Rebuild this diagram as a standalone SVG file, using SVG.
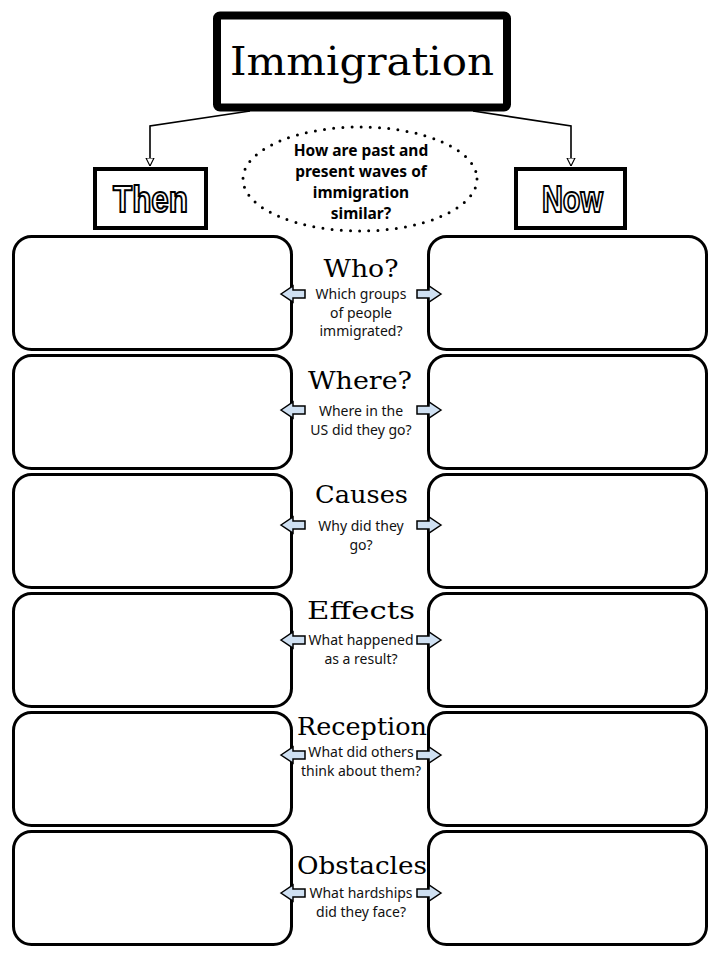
<svg xmlns="http://www.w3.org/2000/svg" width="720" height="960" viewBox="0 0 720 960">
<style>
.box{fill:#fff;stroke:#000;stroke-width:3}
.conn{fill:none;stroke:#000;stroke-width:1.6}
.head{font-family:"DejaVu Serif",serif;font-size:25px;fill:#000;text-anchor:middle}
.sub{font-family:"Noto Sans","Liberation Sans",sans-serif;font-size:14px;fill:#111;text-anchor:middle}
.q{font-family:"Noto Sans","Liberation Sans",sans-serif;font-size:15.5px;font-weight:bold;fill:#000;text-anchor:middle}
.out{font-family:"Liberation Sans",Arial,sans-serif;font-size:36px;font-weight:bold;fill:#fff;stroke:#000;stroke-width:2;text-anchor:middle}
.arr{fill:#cfe0f2;stroke:#000;stroke-width:1.5;stroke-linejoin:miter}
</style>
<defs>
<marker id="tri" viewBox="0 0 10 10" refX="10" refY="5" markerWidth="8" markerHeight="11" markerUnits="userSpaceOnUse" orient="auto">
<path d="M0,0 L10,5 L0,10 Z" fill="#fff" stroke="#000" stroke-width="1.4"/>
</marker>
<path id="arrow" d="M0,0 L12,-8 L12,-4 L24,-4 L24,4 L12,4 L12,8 Z"/>
</defs>
<rect width="720" height="960" fill="#fff"/>
<g id="connectors">
<path class="conn" d="M250,111 L150,126 L150,166" marker-end="url(#tri)"/>
<path class="conn" d="M473,111 L571,126 L571,166" marker-end="url(#tri)"/>
</g>
<g id="title">
<rect x="217" y="15.5" width="290" height="92" rx="3" fill="#fff" stroke="#000" stroke-width="8"/>
<text x="362" y="75" font-family="DejaVu Serif,serif" font-size="40" text-anchor="middle" textLength="264" lengthAdjust="spacingAndGlyphs">Immigration</text>
</g>
<g id="then">
<rect x="95" y="169" width="111" height="59" fill="#fff" stroke="#000" stroke-width="4"/>
<text class="out" x="150.5" y="212" textLength="75" lengthAdjust="spacingAndGlyphs">Then</text>
</g>
<g id="now">
<rect x="516" y="169" width="109" height="59" fill="#fff" stroke="#000" stroke-width="4"/>
<text class="out" x="572.5" y="212" textLength="61" lengthAdjust="spacingAndGlyphs">Now</text>
</g>
<g id="question">
<ellipse cx="360" cy="179" rx="117" ry="52" fill="none" stroke="#000" stroke-width="3" stroke-linecap="round" stroke-dasharray="0 9.2"/>
<text class="q" x="361" y="156">How are past and</text>
<text class="q" x="361" y="177">present waves of</text>
<text class="q" x="361" y="198">immigration</text>
<text class="q" x="361" y="219">similar?</text>
</g>
<g id="then-boxes">
<rect class="box" x="13.5" y="236.5" width="278" height="113" rx="18"/>
<rect class="box" x="13.5" y="355.5" width="278" height="113" rx="18"/>
<rect class="box" x="13.5" y="474.5" width="278" height="113" rx="18"/>
<rect class="box" x="13.5" y="593.5" width="278" height="113" rx="18"/>
<rect class="box" x="13.5" y="712.5" width="278" height="113" rx="18"/>
<rect class="box" x="13.5" y="831.5" width="278" height="113" rx="18"/>
</g>
<g id="now-boxes">
<rect class="box" x="428.5" y="236.5" width="278" height="113" rx="18"/>
<rect class="box" x="428.5" y="355.5" width="278" height="113" rx="18"/>
<rect class="box" x="428.5" y="474.5" width="278" height="113" rx="18"/>
<rect class="box" x="428.5" y="593.5" width="278" height="113" rx="18"/>
<rect class="box" x="428.5" y="712.5" width="278" height="113" rx="18"/>
<rect class="box" x="428.5" y="831.5" width="278" height="113" rx="18"/>
</g>
<g id="who">
<text class="head" x="361" y="277" textLength="75" lengthAdjust="spacingAndGlyphs">Who?</text>
<text class="sub" x="361" y="299">Which groups</text>
<text class="sub" x="361" y="318">of people</text>
<text class="sub" x="361" y="336">immigrated?</text>
<use href="#arrow" class="arr" transform="translate(281,294)"/>
<use href="#arrow" class="arr" transform="translate(441,294) scale(-1,1)"/>
</g>
<g id="where">
<text class="head" x="360" y="389" textLength="104" lengthAdjust="spacingAndGlyphs">Where?</text>
<text class="sub" x="361" y="416">Where in the</text>
<text class="sub" x="361" y="435">US did they go?</text>
<use href="#arrow" class="arr" transform="translate(281,410)"/>
<use href="#arrow" class="arr" transform="translate(441,410) scale(-1,1)"/>
</g>
<g id="causes">
<text class="head" x="361.5" y="503" textLength="93" lengthAdjust="spacingAndGlyphs">Causes</text>
<text class="sub" x="361" y="531">Why did they</text>
<text class="sub" x="361" y="550">go?</text>
<use href="#arrow" class="arr" transform="translate(281,525)"/>
<use href="#arrow" class="arr" transform="translate(441,525) scale(-1,1)"/>
</g>
<g id="effects">
<text class="head" x="361" y="619" textLength="108" lengthAdjust="spacingAndGlyphs">Effects</text>
<text class="sub" x="361" y="645">What happened</text>
<text class="sub" x="361" y="664">as a result?</text>
<use href="#arrow" class="arr" transform="translate(281,640)"/>
<use href="#arrow" class="arr" transform="translate(441,640) scale(-1,1)"/>
</g>
<g id="reception">
<text class="head" x="362" y="735" textLength="130" lengthAdjust="spacingAndGlyphs">Reception</text>
<text class="sub" x="361" y="757">What did others</text>
<text class="sub" x="361" y="776">think about them?</text>
<use href="#arrow" class="arr" transform="translate(281,755)"/>
<use href="#arrow" class="arr" transform="translate(441,755) scale(-1,1)"/>
</g>
<g id="obstacles">
<text class="head" x="362" y="874" textLength="130" lengthAdjust="spacingAndGlyphs">Obstacles</text>
<text class="sub" x="361" y="898">What hardships</text>
<text class="sub" x="361" y="917">did they face?</text>
<use href="#arrow" class="arr" transform="translate(281,893)"/>
<use href="#arrow" class="arr" transform="translate(441,893) scale(-1,1)"/>
</g>
</svg>
